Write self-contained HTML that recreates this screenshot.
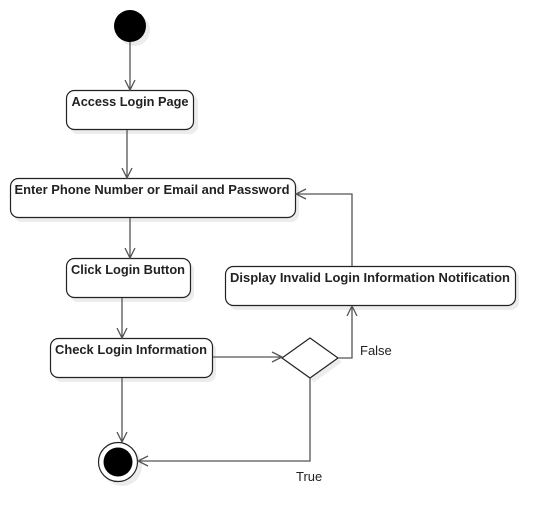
<!DOCTYPE html>
<html><head><style>body{margin:0;background:#fff}svg{display:block}text{font-family:"Liberation Sans",Arial,sans-serif;font-size:13px;fill:#222}</style></head><body>
<svg width="555" height="523" viewBox="0 0 555 523" xmlns="http://www.w3.org/2000/svg">
<g fill="#ececec" stroke="none">
<circle cx="134" cy="30" r="16"/>
<rect x="70" y="94" width="128" height="40" rx="8"/>
<rect x="14" y="182" width="285" height="40" rx="8"/>
<rect x="70" y="262" width="124" height="40" rx="8"/>
<rect x="54" y="342" width="162" height="40" rx="8"/>
<rect x="229" y="270" width="290" height="40" rx="8"/>
<polygon points="286,362 314,342 342,362 314,382"/>
<circle cx="122" cy="466" r="20"/>
</g>
<circle cx="130" cy="26" r="16" fill="#000"/>
<g fill="#fff" stroke="#222" stroke-width="1.2">
<rect x="66.5" y="90.5" width="127" height="39" rx="8"/>
<rect x="10.5" y="178.5" width="285" height="39" rx="8"/>
<rect x="66.5" y="258.5" width="124" height="39" rx="8"/>
<rect x="50.5" y="338.5" width="162" height="39" rx="8"/>
<rect x="225.5" y="266.5" width="290" height="39" rx="8"/>
<polygon points="282,358 310,338 338,358 310,378"/>
<circle cx="118" cy="462" r="19.5"/>
</g>
<circle cx="118" cy="462" r="14.5" fill="#000"/>
<g fill="none" stroke="#555" stroke-width="1.3">
<path d="M130 42V90M125 80L130 90L135 80"/>
<path d="M127 130V178M122 168L127 178L132 168"/>
<path d="M130 218V258M125 248L130 258L135 248"/>
<path d="M122 298V338M117 328L122 338L127 328"/>
<path d="M213 357H282M272 352L282 357L272 362"/>
<path d="M338 358H352V306M347 316L352 306L357 316"/>
<path d="M352 266V194H296M306 189L296 194L306 199"/>
<path d="M310 378V461H138M148 456L138 461L148 466"/>
<path d="M122 378V442M117 432L122 442L127 432"/>
</g>
<g font-weight="bold" text-anchor="middle">
<text x="130" y="106" textLength="117" lengthAdjust="spacingAndGlyphs">Access Login Page</text>
<text x="152" y="194" textLength="275" lengthAdjust="spacingAndGlyphs">Enter Phone Number or Email and Password</text>
<text x="128" y="274" textLength="114" lengthAdjust="spacingAndGlyphs">Click Login Button</text>
<text x="131" y="354" textLength="152" lengthAdjust="spacingAndGlyphs">Check Login Information</text>
<text x="370" y="282" textLength="280" lengthAdjust="spacingAndGlyphs">Display Invalid Login Information Notification</text>
</g>
<text x="360" y="355" fill="#444" font-size="12">False</text>
<text x="296" y="481" fill="#444" font-size="12">True</text>
</svg>
</body></html>
